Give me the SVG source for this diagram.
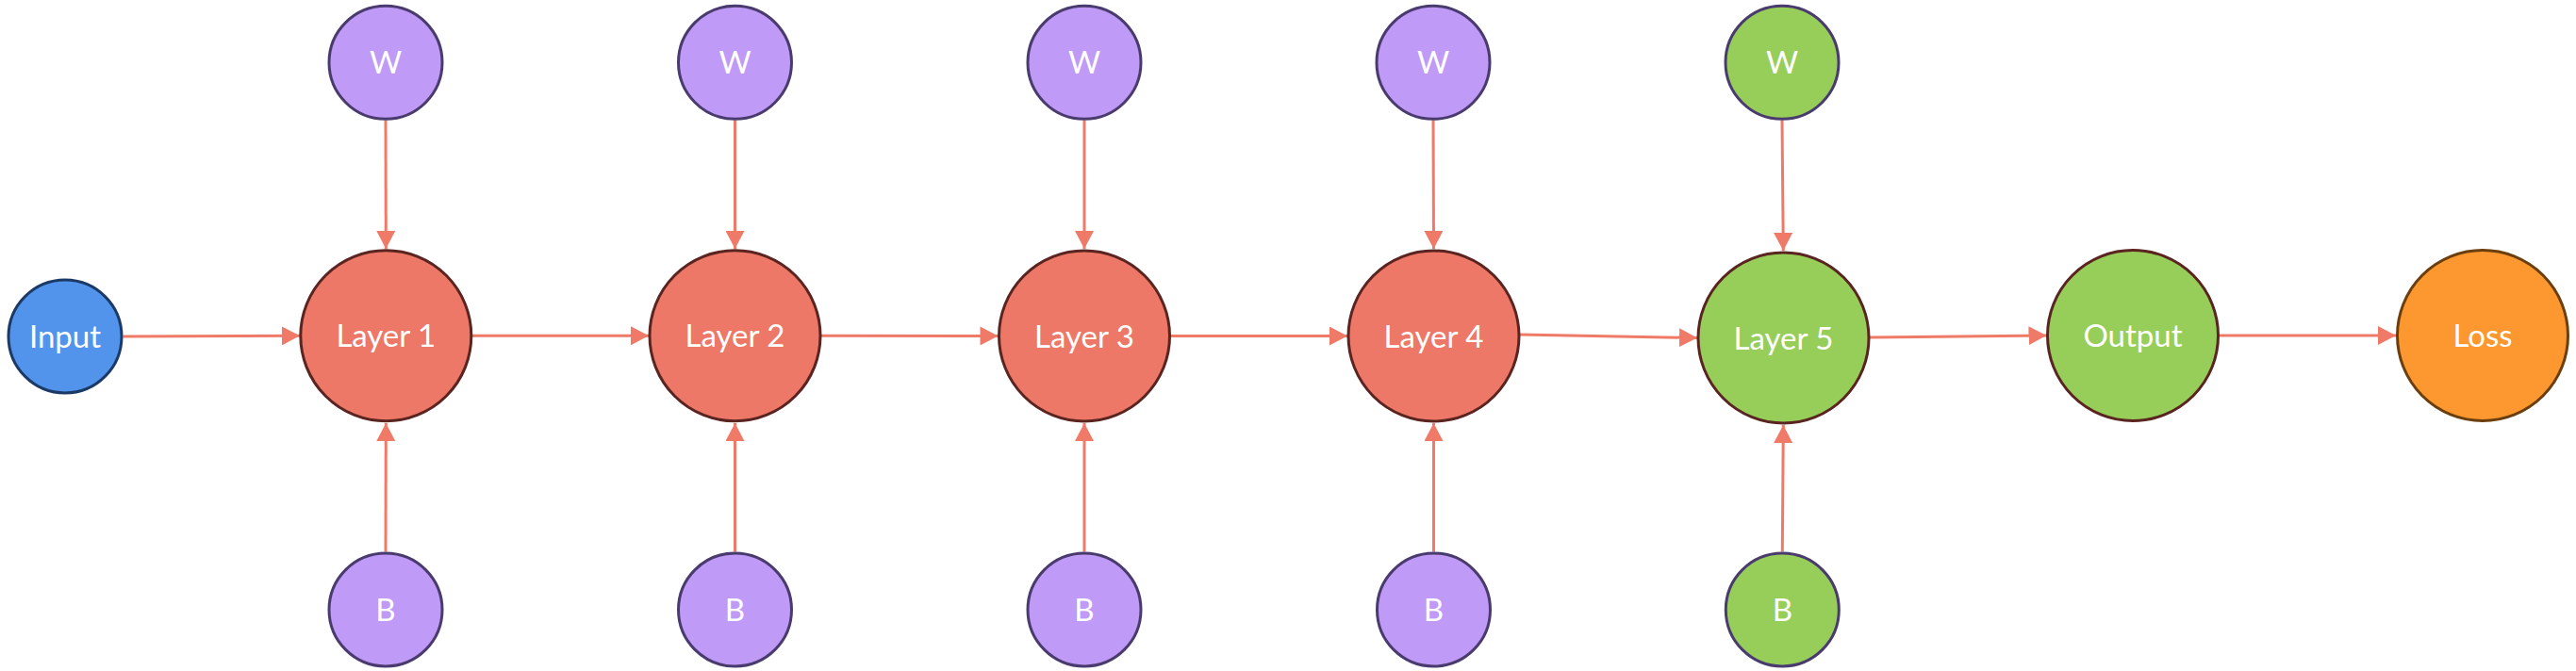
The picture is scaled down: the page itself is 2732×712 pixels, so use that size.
<svg xmlns="http://www.w3.org/2000/svg" width="2732" height="712" viewBox="0 0 2732 712">
  <style>
    .lbl { font-family: Lato, "Noto Sans", "Liberation Sans", sans-serif; font-size: 33px; fill: #FFFFFF; text-anchor: middle; }
    .edge { stroke: #EF7A68; stroke-width: 3; fill: none; marker-end: url(#arrow); }
    .layer { fill: #ED7867; stroke: #5A2420; stroke-width: 3; }
    .param { fill: #BF9AF6; stroke: #4A3B6E; stroke-width: 3; }
    .gparam { fill: #97CE5A; stroke: #4A3B6E; stroke-width: 3; }
    .glayer { fill: #97CE5A; stroke: #5A2420; stroke-width: 3; }
    .input { fill: #5294EC; stroke: #1B3A66; stroke-width: 3; }
    .loss { fill: #FD972F; stroke: #6B3E0E; stroke-width: 3; }
  </style>
  <defs>
    <marker id="arrow" markerUnits="userSpaceOnUse" markerWidth="19" markerHeight="20" refX="19" refY="10" orient="auto">
      <path d="M0,0 L19,10 L0,20 Z" fill="#EF7A68"/>
    </marker>
  </defs>
  <rect width="2732" height="712" fill="#FFFFFF"/>

  <g id="connectors">
    <line class="edge" x1="130.5" y1="357" x2="318" y2="356.3"/>
    <line class="edge" x1="500.8" y1="356.3" x2="688" y2="356.3"/>
    <line class="edge" x1="871" y1="356.3" x2="1058.5" y2="356.5"/>
    <line class="edge" x1="1241.5" y1="356.5" x2="1429" y2="356.5"/>
    <line class="edge" x1="1612" y1="355" x2="1800" y2="358.5"/>
    <line class="edge" x1="1983" y1="358" x2="2170.5" y2="356"/>
    <line class="edge" x1="2353.5" y1="356" x2="2541" y2="356"/>

    <line class="edge" x1="409" y1="127.5" x2="409.3" y2="264"/>
    <line class="edge" x1="779.5" y1="127.5" x2="779.5" y2="264"/>
    <line class="edge" x1="1150" y1="127.5" x2="1150" y2="264"/>
    <line class="edge" x1="1520" y1="127.5" x2="1520.5" y2="264"/>
    <line class="edge" x1="1890" y1="127.5" x2="1891.3" y2="266"/>

    <line class="edge" x1="409" y1="585.5" x2="409.3" y2="449"/>
    <line class="edge" x1="779.5" y1="585.5" x2="779.5" y2="449"/>
    <line class="edge" x1="1150" y1="585.5" x2="1150" y2="449"/>
    <line class="edge" x1="1520.5" y1="585.5" x2="1520.5" y2="449"/>
    <line class="edge" x1="1890.3" y1="585.5" x2="1891.3" y2="451"/>
  </g>

  <g id="input"><circle class="input" cx="69" cy="357" r="60"/><text class="lbl" x="69" y="369">Input</text></g>

  <g id="layer1"><circle class="layer" cx="409.3" cy="356.3" r="90.5"/><text class="lbl" x="409.3" y="368.3">Layer 1</text></g>
  <g id="w1"><circle class="param" cx="409" cy="66.3" r="60"/><text class="lbl" x="409" y="78.3">W</text></g>
  <g id="b1"><circle class="param" cx="409" cy="647" r="60"/><text class="lbl" x="409" y="659">B</text></g>

  <g id="layer2"><circle class="layer" cx="779.5" cy="356.3" r="90.5"/><text class="lbl" x="779.5" y="368.3">Layer 2</text></g>
  <g id="w2"><circle class="param" cx="779.5" cy="66.3" r="60"/><text class="lbl" x="779.5" y="78.3">W</text></g>
  <g id="b2"><circle class="param" cx="779.5" cy="647" r="60"/><text class="lbl" x="779.5" y="659">B</text></g>

  <g id="layer3"><circle class="layer" cx="1150" cy="356.5" r="90.5"/><text class="lbl" x="1150" y="368.5">Layer 3</text></g>
  <g id="w3"><circle class="param" cx="1150" cy="66.3" r="60"/><text class="lbl" x="1150" y="78.3">W</text></g>
  <g id="b3"><circle class="param" cx="1150" cy="647" r="60"/><text class="lbl" x="1150" y="659">B</text></g>

  <g id="layer4"><circle class="layer" cx="1520.5" cy="356.5" r="90.5"/><text class="lbl" x="1520.5" y="368.5">Layer 4</text></g>
  <g id="w4"><circle class="param" cx="1520" cy="66.3" r="60"/><text class="lbl" x="1520" y="78.3">W</text></g>
  <g id="b4"><circle class="param" cx="1520.5" cy="647" r="60"/><text class="lbl" x="1520.5" y="659">B</text></g>

  <g id="layer5"><circle class="glayer" cx="1891.5" cy="358.5" r="90.5"/><text class="lbl" x="1891.5" y="370.5">Layer 5</text></g>
  <g id="w5"><circle class="gparam" cx="1890" cy="66.3" r="60"/><text class="lbl" x="1890" y="78.3">W</text></g>
  <g id="b5"><circle class="gparam" cx="1890.3" cy="647" r="60"/><text class="lbl" x="1890.3" y="659">B</text></g>

  <g id="output"><circle class="glayer" cx="2262" cy="356" r="90.5"/><text class="lbl" x="2262" y="368">Output</text></g>
  <g id="loss"><circle class="loss" cx="2633" cy="356" r="90.5"/><text class="lbl" x="2633" y="368">Loss</text></g>
</svg>
